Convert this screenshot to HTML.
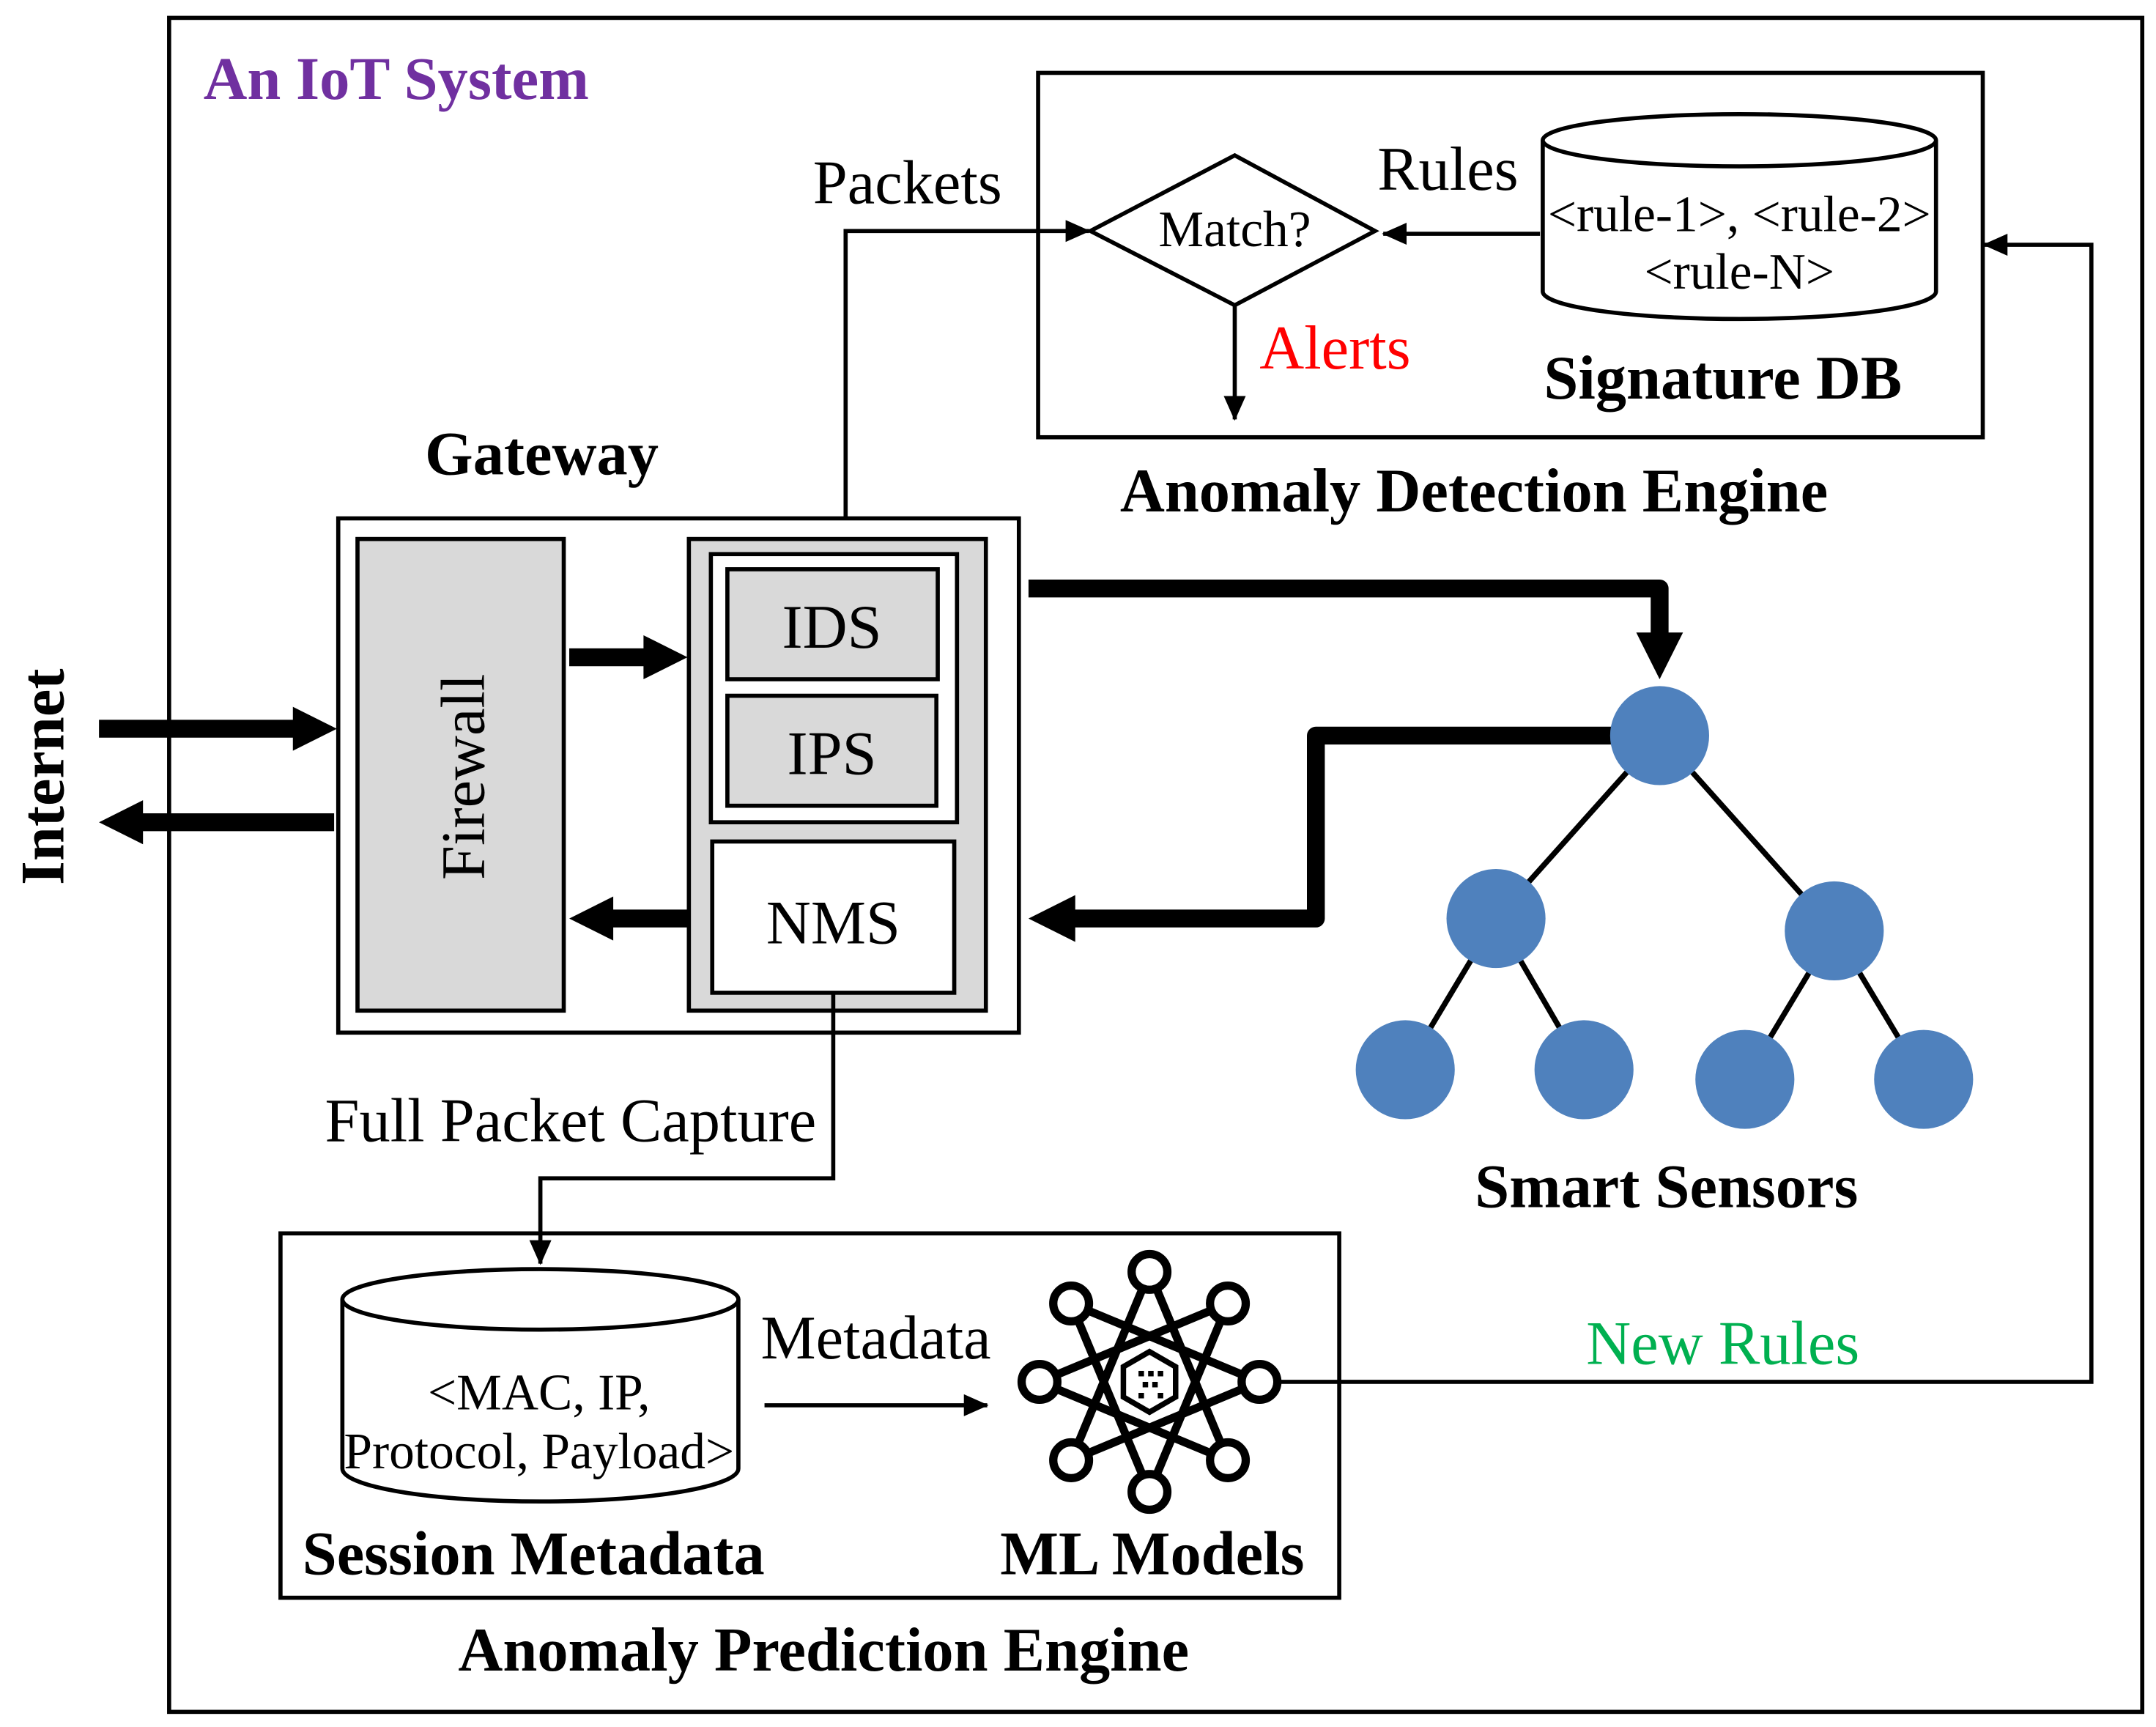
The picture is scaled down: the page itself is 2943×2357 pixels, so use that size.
<!DOCTYPE html>
<html><head><meta charset="utf-8"><style>html,body{margin:0;padding:0;background:#fff}svg{display:block}</style></head>
<body>
<svg width="2943" height="2357" viewBox="0 0 1568 1256" preserveAspectRatio="none" xmlns="http://www.w3.org/2000/svg" font-family="Liberation Serif, serif">
<defs>
<marker id="a" markerWidth="18" markerHeight="16" refX="17" refY="8" orient="auto" markerUnits="userSpaceOnUse" viewBox="0 0 18 16"><path d="M0,0 L18,8 L0,16 Z" fill="#000"/></marker>
</defs>
<rect x="0" y="0" width="1568" height="1256" fill="#fff"/>
<rect x="123" y="13" width="1435" height="1232" fill="none" stroke="#000" stroke-width="3"/>
<text x="148" y="72" font-size="44" font-weight="bold" fill="#7030a0">An IoT System</text>

<!-- Detection engine -->
<rect x="755" y="53" width="687" height="265" fill="none" stroke="#000" stroke-width="3"/>
<polygon points="793,168 898,113 1000,168 898,222" fill="#fff" stroke="#000" stroke-width="3"/>
<text x="898" y="179" font-size="37" text-anchor="middle">Match?</text>
<text x="1053" y="138" font-size="45" text-anchor="middle">Rules</text>
<path d="M1122,102 L1122,212 A143,20 0 0 0 1408,212 L1408,102" fill="#fff" stroke="#000" stroke-width="3"/>
<ellipse cx="1265" cy="102" rx="143" ry="19" fill="#fff" stroke="#000" stroke-width="3"/>
<text x="1265" y="168" font-size="37" text-anchor="middle">&lt;rule-1&gt;, &lt;rule-2&gt;</text>
<text x="1265" y="210" font-size="37" text-anchor="middle">&lt;rule-N&gt;</text>
<text x="1253" y="290" font-size="45" font-weight="bold" text-anchor="middle">Signature DB</text>
<line x1="1120" y1="170" x2="1006" y2="170" stroke="#000" stroke-width="3" marker-end="url(#a)"/>
<line x1="898" y1="222" x2="898" y2="305" stroke="#000" stroke-width="3" marker-end="url(#a)"/>
<text x="916" y="268" font-size="45" fill="#ff0000">Alerts</text>
<text x="1072" y="372" font-size="45" font-weight="bold" text-anchor="middle">Anomaly Detection Engine</text>
<polyline points="615,405 615,168 792,168" fill="none" stroke="#000" stroke-width="3" marker-end="url(#a)"/>
<text x="660" y="148" font-size="45" text-anchor="middle">Packets</text>

<!-- Gateway -->
<text x="394" y="345" font-size="45" font-weight="bold" text-anchor="middle">Gateway</text>
<rect x="246" y="377" width="495" height="374" fill="#fff" stroke="#000" stroke-width="3"/>
<rect x="260" y="392" width="150" height="343" fill="#d9d9d9" stroke="#000" stroke-width="3"/>
<text transform="translate(352,565) rotate(-90)" font-size="45" text-anchor="middle">Firewall</text>
<rect x="501" y="392" width="216" height="343" fill="#d9d9d9" stroke="#000" stroke-width="3"/>
<rect x="517" y="403" width="179" height="195" fill="#fff" stroke="#000" stroke-width="3"/>
<rect x="529" y="414" width="153" height="80" fill="#d9d9d9" stroke="#000" stroke-width="3"/>
<text x="605" y="471" font-size="45" text-anchor="middle">IDS</text>
<rect x="529" y="506" width="152" height="80" fill="#d9d9d9" stroke="#000" stroke-width="3"/>
<text x="605" y="563" font-size="45" text-anchor="middle">IPS</text>
<rect x="518" y="612" width="176" height="110" fill="#fff" stroke="#000" stroke-width="3"/>
<text x="606" y="686" font-size="45" text-anchor="middle">NMS</text>

<g stroke="#000" stroke-width="13" fill="none" stroke-linejoin="round">
<line x1="414" y1="478" x2="470" y2="478"/>
<line x1="500" y1="668" x2="444" y2="668"/>
<line x1="72" y1="530" x2="215" y2="530"/>
<line x1="243" y1="598" x2="102" y2="598"/>
<polyline points="748,428 1207,428 1207,462"/>
<polyline points="1172,535 957,535 957,668 780,668"/>
</g>
<g fill="#000">
<polygon points="468,462 500,478 468,494"/>
<polygon points="446,652 414,668 446,684"/>
<polygon points="213,514 245,530 213,546"/>
<polygon points="104,582 72,598 104,614"/>
<polygon points="1190,460 1207,494 1224,460"/>
<polygon points="782,651 748,668 782,685"/>
</g>
<text transform="translate(46,565) rotate(-90)" font-size="45" font-weight="bold" text-anchor="middle">Internet</text>

<!-- sensors -->
<g stroke="#000" stroke-width="4">
<line x1="1207" y1="535" x2="1088" y2="668"/><line x1="1207" y1="535" x2="1334" y2="677"/>
<line x1="1088" y1="668" x2="1022" y2="778"/><line x1="1088" y1="668" x2="1152" y2="778"/>
<line x1="1334" y1="677" x2="1269" y2="785"/><line x1="1334" y1="677" x2="1399" y2="785"/>
</g>
<g fill="#4f81bd">
<circle cx="1207" cy="535" r="36"/><circle cx="1088" cy="668" r="36"/><circle cx="1334" cy="677" r="36"/>
<circle cx="1022" cy="778" r="36"/><circle cx="1152" cy="778" r="36"/><circle cx="1269" cy="785" r="36"/><circle cx="1399" cy="785" r="36"/>
</g>
<text x="1212" y="878" font-size="45" font-weight="bold" text-anchor="middle">Smart Sensors</text>

<!-- Full packet capture -->
<polyline points="606,722 606,857 393,857 393,919" fill="none" stroke="#000" stroke-width="3" marker-end="url(#a)"/>
<text x="415" y="830" font-size="45" text-anchor="middle">Full Packet Capture</text>

<!-- Prediction engine -->
<rect x="204" y="897" width="770" height="265" fill="none" stroke="#000" stroke-width="3"/>
<path d="M249,945 L249,1068 A144,24 0 0 0 537,1068 L537,945" fill="#fff" stroke="#000" stroke-width="3"/>
<ellipse cx="393" cy="945" rx="144" ry="22" fill="#fff" stroke="#000" stroke-width="3"/>
<text x="392" y="1025" font-size="37" text-anchor="middle">&lt;MAC, IP,</text>
<text x="392" y="1068" font-size="37" text-anchor="middle">Protocol, Payload&gt;</text>
<text x="388" y="1145" font-size="45" font-weight="bold" text-anchor="middle">Session Metadata</text>
<text x="637" y="988" font-size="45" text-anchor="middle">Metadata</text>
<line x1="556" y1="1022" x2="718" y2="1022" stroke="#000" stroke-width="3" marker-end="url(#a)"/>

<!-- ML icon -->
<g stroke="#000" stroke-width="6" fill="none">
<path d="M836,925 L893,1062 M893,948 L836,1085 M916,1005 L779,1062 M893,1062 L756,1005 M836,1085 L779,948 M779,1062 L836,925 M756,1005 L893,948 M779,948 L916,1005"/>
<polygon points="836,983 855,994 855,1016 836,1027 817,1016 817,994" fill="#fff" stroke-width="4"/>
</g>
<g fill="#fff" stroke="#000" stroke-width="6">
<circle cx="836" cy="925" r="13"/><circle cx="893" cy="948" r="13"/><circle cx="916" cy="1005" r="13"/><circle cx="893" cy="1062" r="13"/>
<circle cx="836" cy="1085" r="13"/><circle cx="779" cy="1062" r="13"/><circle cx="756" cy="1005" r="13"/><circle cx="779" cy="948" r="13"/>
</g>
<g fill="#000"><rect x="828" y="997" width="4" height="4"/><rect x="835" y="997" width="4" height="4"/><rect x="842" y="997" width="4" height="4"/><rect x="831" y="1005" width="4" height="4"/><rect x="838" y="1005" width="4" height="4"/><rect x="828" y="1013" width="4" height="4"/><rect x="842" y="1013" width="4" height="4"/></g>
<text x="838" y="1145" font-size="45" font-weight="bold" text-anchor="middle">ML Models</text>

<!-- New rules -->
<polyline points="930,1005 1521,1005 1521,178 1443,178" fill="none" stroke="#000" stroke-width="3" marker-end="url(#a)"/>
<text x="1253" y="992" font-size="45" fill="#00b050" text-anchor="middle">New Rules</text>
<text x="599" y="1215" font-size="45" font-weight="bold" text-anchor="middle">Anomaly Prediction Engine</text>
</svg>
</body></html>
